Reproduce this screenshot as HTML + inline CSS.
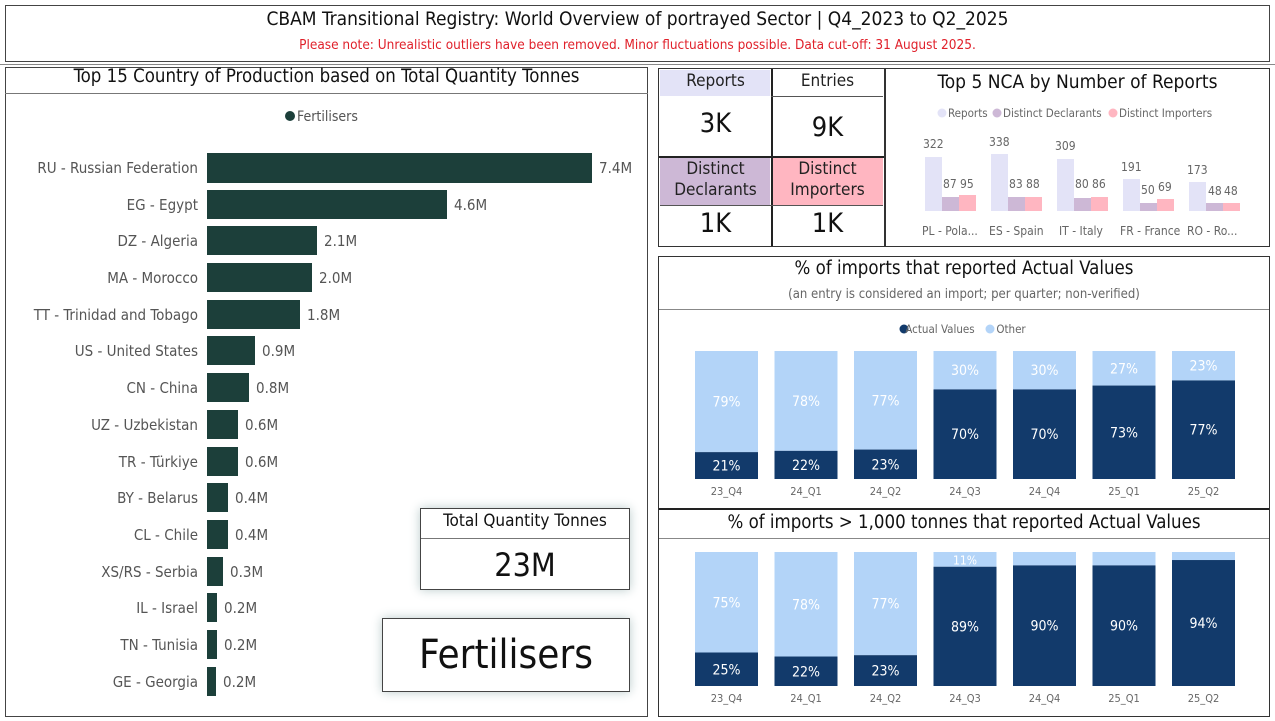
<!DOCTYPE html>
<html><head><meta charset="utf-8"><style>
body{margin:0;width:1275px;height:721px;background:#fff;font-family:"DejaVu Sans Condensed","Liberation Sans",sans-serif;position:relative;overflow:hidden;color:#222}
.a{position:absolute}
.box{position:absolute;border:1.5px solid #444;box-sizing:border-box;background:#fff}
.c{text-align:center}
</style></head><body>
<div class="box" style="left:5px;top:5px;width:1265px;height:57px"></div>
<div class="a c" style="left:5px;top:8px;width:1265px;font-size:19px;color:#111">CBAM Transitional Registry: World Overview of portrayed Sector | Q4_2023 to Q2_2025</div>
<div class="a c" style="left:5px;top:37px;width:1265px;font-size:13.5px;color:#e0202a">Please note: Unrealistic outliers have been removed. Minor fluctuations possible. Data cut-off: 31 August 2025.</div>
<div class="a" style="left:0;top:64px;width:1275px;border-top:1px solid #888"></div>

<div class="box" style="left:5px;top:67px;width:643px;height:650px"></div>
<div class="a c" style="left:5px;top:66px;width:643px;font-size:18.5px;color:#111">Top 15 Country of Production based on Total Quantity Tonnes</div>
<div class="a" style="left:5px;top:93px;width:643px;border-top:1px solid #777"></div>

<svg class="a" style="left:0;top:0" width="660" height="721" font-family="DejaVu Sans Condensed, Liberation Sans, sans-serif">
<circle cx="290" cy="116" r="5" fill="#1c3f3a"/>
<text x="297" y="121" font-size="14" fill="#555">Fertilisers</text>
<g font-size="15" fill="#555">
<rect x="207" y="153" width="385" height="30" fill="#1c3f3a"/><text x="198" y="173" text-anchor="end">RU - Russian Federation</text><text x="599" y="173">7.4M</text>
<rect x="207" y="190" width="240" height="29" fill="#1c3f3a"/><text x="198" y="210" text-anchor="end">EG - Egypt</text><text x="454" y="210">4.6M</text>
<rect x="207" y="226" width="110" height="29" fill="#1c3f3a"/><text x="198" y="246" text-anchor="end">DZ - Algeria</text><text x="324" y="246">2.1M</text>
<rect x="207" y="263" width="105" height="29" fill="#1c3f3a"/><text x="198" y="283" text-anchor="end">MA - Morocco</text><text x="319" y="283">2.0M</text>
<rect x="207" y="300" width="93" height="29" fill="#1c3f3a"/><text x="198" y="320" text-anchor="end">TT - Trinidad and Tobago</text><text x="307" y="320">1.8M</text>
<rect x="207" y="336" width="48" height="29" fill="#1c3f3a"/><text x="198" y="356" text-anchor="end">US - United States</text><text x="262" y="356">0.9M</text>
<rect x="207" y="373" width="42" height="29" fill="#1c3f3a"/><text x="198" y="393" text-anchor="end">CN - China</text><text x="256" y="393">0.8M</text>
<rect x="207" y="410" width="31" height="29" fill="#1c3f3a"/><text x="198" y="430" text-anchor="end">UZ - Uzbekistan</text><text x="245" y="430">0.6M</text>
<rect x="207" y="447" width="31" height="29" fill="#1c3f3a"/><text x="198" y="467" text-anchor="end">TR - Türkiye</text><text x="245" y="467">0.6M</text>
<rect x="207" y="483" width="21" height="29" fill="#1c3f3a"/><text x="198" y="503" text-anchor="end">BY - Belarus</text><text x="235" y="503">0.4M</text>
<rect x="207" y="520" width="21" height="29" fill="#1c3f3a"/><text x="198" y="540" text-anchor="end">CL - Chile</text><text x="235" y="540">0.4M</text>
<rect x="207" y="557" width="16" height="29" fill="#1c3f3a"/><text x="198" y="577" text-anchor="end">XS/RS - Serbia</text><text x="230" y="577">0.3M</text>
<rect x="207" y="593" width="10" height="29" fill="#1c3f3a"/><text x="198" y="613" text-anchor="end">IL - Israel</text><text x="224" y="613">0.2M</text>
<rect x="207" y="630" width="10" height="29" fill="#1c3f3a"/><text x="198" y="650" text-anchor="end">TN - Tunisia</text><text x="224" y="650">0.2M</text>
<rect x="207" y="667" width="9" height="29" fill="#1c3f3a"/><text x="198" y="687" text-anchor="end">GE - Georgia</text><text x="223" y="687">0.2M</text>
</g></svg>

<div class="box" style="left:420px;top:508px;width:210px;height:82px;box-shadow:0 0 10px #bcc"></div>
<div class="a c" style="left:420px;top:511px;width:210px;font-size:17px;color:#111">Total Quantity Tonnes</div>
<div class="a" style="left:421px;top:538px;width:208px;border-top:1px solid #777"></div>
<div class="a c" style="left:420px;top:546px;width:210px;font-size:32px;color:#111">23M</div>
<div class="box" style="left:382px;top:618px;width:248px;height:74px;box-shadow:0 0 10px #bcc"></div>
<div class="a c" style="left:382px;top:632px;width:248px;font-size:40px;color:#111">Fertilisers</div>

<!-- KPI -->
<div class="box" style="left:658px;top:68px;width:227px;height:179px;border-color:#333"></div>
<div class="a" style="left:660px;top:70px;width:110px;height:26px;background:#e3e3f7"></div>
<div class="a" style="left:660px;top:158px;width:110px;height:47px;background:#cdb8d6"></div>
<div class="a" style="left:772px;top:158px;width:111px;height:47px;background:#ffb6c1"></div>
<div class="a" style="left:771px;top:69px;height:177px;border-left:2px solid #222"></div>
<div class="a" style="left:659px;top:156px;width:225px;border-top:2px solid #222"></div>
<div class="a" style="left:771px;top:96px;width:112px;border-top:1px solid #555"></div>
<div class="a" style="left:660px;top:205px;width:223px;border-top:1px solid #555"></div>
<div class="a c" style="left:660px;top:71px;width:111px;font-size:17px">Reports</div>
<div class="a c" style="left:772px;top:71px;width:111px;font-size:17px">Entries</div>
<div class="a c" style="left:660px;top:108px;width:111px;font-size:27px;color:#111">3K</div>
<div class="a c" style="left:772px;top:112px;width:111px;font-size:27px;color:#111">9K</div>
<div class="a c" style="left:660px;top:159px;width:111px;font-size:17px;line-height:21px">Distinct<br>Declarants</div>
<div class="a c" style="left:772px;top:159px;width:111px;font-size:17px;line-height:21px">Distinct<br>Importers</div>
<div class="a c" style="left:660px;top:208px;width:111px;font-size:27px;color:#111">1K</div>
<div class="a c" style="left:772px;top:208px;width:111px;font-size:27px;color:#111">1K</div>

<div class="box" style="left:885px;top:68px;width:385px;height:179px;border-color:#333"></div>
<div class="a c" style="left:885px;top:71px;width:385px;font-size:19px;color:#111">Top 5 NCA by Number of Reports</div>
<svg class="a" style="left:885px;top:100px" width="385" height="145" font-family="DejaVu Sans Condensed, Liberation Sans, sans-serif" font-size="11.5" fill="#666">
<circle cx="57" cy="13" r="4.5" fill="#e3e3f7"/><text x="63" y="17">Reports</text>
<circle cx="112" cy="13" r="4.5" fill="#cdb8d6"/><text x="118" y="17">Distinct Declarants</text>
<circle cx="228" cy="13" r="4.5" fill="#ffb6c1"/><text x="234" y="17">Distinct Importers</text>
<g font-size="12">
<rect x="40" y="57" width="17" height="54" fill="#e3e3f7"/><rect x="57" y="97" width="17" height="14" fill="#cdb8d6"/><rect x="74" y="95" width="17" height="16" fill="#ffb6c1"/>
<text x="38" y="48">322</text><text x="58" y="88">87</text><text x="75" y="88">95</text><text x="37" y="135">PL - Pola...</text>
<rect x="106" y="54" width="17" height="57" fill="#e3e3f7"/><rect x="123" y="97" width="17" height="14" fill="#cdb8d6"/><rect x="140" y="97" width="17" height="14" fill="#ffb6c1"/>
<text x="104" y="46">338</text><text x="124" y="88">83</text><text x="141" y="88">88</text><text x="104" y="135">ES - Spain</text>
<rect x="172" y="59" width="17" height="52" fill="#e3e3f7"/><rect x="189" y="98" width="17" height="13" fill="#cdb8d6"/><rect x="206" y="97" width="17" height="14" fill="#ffb6c1"/>
<text x="170" y="50">309</text><text x="190" y="88">80</text><text x="207" y="88">86</text><text x="174" y="135">IT - Italy</text>
<rect x="238" y="79" width="17" height="32" fill="#e3e3f7"/><rect x="255" y="103" width="17" height="8" fill="#cdb8d6"/><rect x="272" y="99" width="17" height="12" fill="#ffb6c1"/>
<text x="236" y="71">191</text><text x="256" y="94">50</text><text x="273" y="91">69</text><text x="235" y="135">FR - France</text>
<rect x="304" y="82" width="17" height="29" fill="#e3e3f7"/><rect x="321" y="103" width="17" height="8" fill="#cdb8d6"/><rect x="338" y="103" width="17" height="8" fill="#ffb6c1"/>
<text x="302" y="74">173</text><text x="323" y="95">48</text><text x="339" y="95">48</text><text x="302" y="135">RO - Ro...</text>
</g></svg>

<!-- panel 2 & 3 -->
<div class="box" style="left:658px;top:256px;width:612px;height:461px;border-color:#333"></div>
<div class="a c" style="left:658px;top:258px;width:612px;font-size:18.5px;color:#111">% of imports that reported Actual Values</div>
<div class="a c" style="left:658px;top:287px;width:612px;font-size:13px;color:#666">(an entry is considered an import; per quarter; non-verified)</div>
<div class="a" style="left:659px;top:309px;width:610px;border-top:1px solid #888"></div>
<div class="a" style="left:659px;top:508px;width:610px;border-top:2px solid #222"></div>
<div class="a c" style="left:658px;top:512px;width:612px;font-size:18.5px;color:#111">% of imports &gt; 1,000 tonnes that reported Actual Values</div>
<div class="a" style="left:659px;top:538px;width:610px;border-top:1px solid #888"></div>

<svg class="a" style="left:0;top:0" width="1275" height="721" font-family="DejaVu Sans Condensed, Liberation Sans, sans-serif" text-anchor="middle">
<circle cx="904" cy="329" r="4.5" fill="#123a6b"/><text x="940" y="333" font-size="11.5" fill="#666">Actual Values</text>
<circle cx="990" cy="329" r="4.5" fill="#b3d4f8"/><text x="1011" y="333" font-size="11.5" fill="#666">Other</text>
<g id="g1" font-size="14"></g>
<g id="g2" font-size="14"></g>
</svg>
<script>
var L=["23_Q4","24_Q1","24_Q2","24_Q3","24_Q4","25_Q1","25_Q2"];
function draw(id,vals,top,bot,ly){var g=document.getElementById(id),h=bot-top,s="";
vals.forEach(function(v,i){var x=695+i*79.5,d=h*v/100,cx=x+31.5;
s+='<rect x="'+x+'" y="'+top+'" width="63" height="'+(h-d)+'" fill="#b3d4f8"/>';
s+='<rect x="'+x+'" y="'+(bot-d)+'" width="63" height="'+d+'" fill="#123a6b"/>';
s+='<text x="'+cx+'" y="'+(bot-d/2+5)+'" fill="#fff">'+v+'%</text>';
if(100-v>=11)s+='<text x="'+cx+'" y="'+(top+(h-d)/2+5)+'" fill="#fff" font-size="'+(100-v<15?12:14)+'">'+(100-v)+'%</text>';
s+='<text x="'+cx+'" y="'+ly+'" font-size="11" fill="#666">'+L[i]+'</text>';});
g.innerHTML=s;}
draw("g1",[21,22,23,70,70,73,77],351,479,495);
draw("g2",[25,22,23,89,90,90,94],552,686,702);
</script>
</body></html>
